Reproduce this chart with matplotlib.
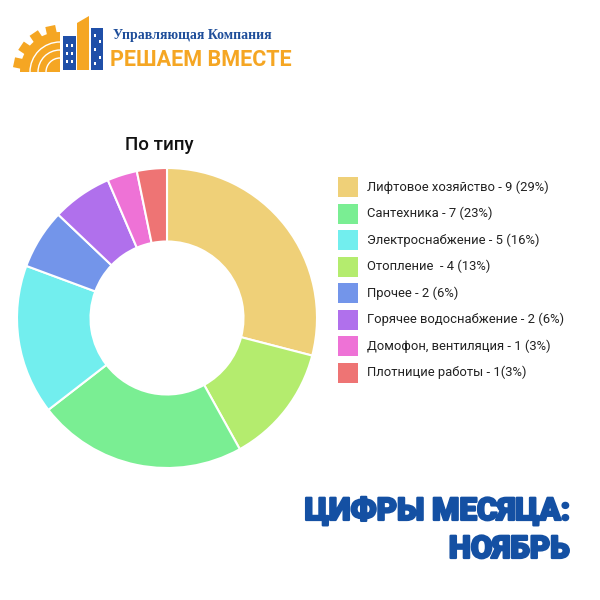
import numpy as np
import matplotlib
matplotlib.use('Agg')
import matplotlib.pyplot as plt
import matplotlib.patheffects as pe
from matplotlib.patches import Rectangle, Wedge, Polygon, Arc

# данные
categories = ['Лифтовое хозяйство', 'Сантехника', 'Электроснабжение', 'Отопление ',
              'Прочее', 'Горячее водоснабжение', 'Домофон, вентиляция', 'Плотницие работы']
counts = [9, 7, 5, 4, 2, 2, 1, 1]
percents = [29, 23, 16, 13, 6, 6, 3, 3]
colors = ['#EFD078', '#7AEE93', '#72EEEE', '#B4EC6E', '#7395EA', '#B070EC', '#EE72D6', '#EE7474']
# порядок секторов по часовой стрелке от 12 часов
pie_order = [0, 3, 1, 2, 4, 5, 6, 7]

legend_labels = [f'{c} - {n} ({p}%)' for c, n, p in zip(categories, counts, percents)]
legend_labels[-1] = f'{categories[-1]} - {counts[-1]}({percents[-1]}%)'

ORANGE = '#F5A623'
BLUE = '#1450A3'

fig = plt.figure(figsize=(6, 6), dpi=100)

# бублик
ax = fig.add_axes([17 / 600, 1 - 468 / 600, 0.5, 0.5])
ax.pie([counts[i] for i in pie_order], colors=[colors[i] for i in pie_order],
       startangle=90, counterclock=False, radius=1.0,
       wedgeprops=dict(width=0.49, edgecolor='white', linewidth=1.5))
ax.set_xlim(-1.0, 1.0)
ax.set_ylim(-1.0, 1.0)
ax.set_aspect('equal')

fig.text(159 / 600, 1 - 145 / 600, 'По типу', ha='center', va='center',
         fontsize=13.5, family='Roboto', fontweight='medium', color='#111111')

# легенда
for k, (lab, col) in enumerate(zip(legend_labels, colors)):
    yc = 187 + k * 26.5
    fig.patches.append(Rectangle((338 / 600, 1 - (yc + 10) / 600), 20 / 600, 20 / 600,
                                 transform=fig.transFigure, facecolor=col, edgecolor='none'))
    fig.text(367 / 600, 1 - yc / 600, lab, ha='left', va='center', fontsize=9.4,
             family='Roboto', color='#222222')

# логотип (координаты в пикселях)
lx = fig.add_axes([0, 0, 1, 1], zorder=-1)
lx.set_xlim(0, 600)
lx.set_ylim(600, 0)
lx.axis('off')

lx.add_patch(Wedge((60, 72), 40, 180, 270, facecolor=ORANGE, edgecolor='none'))
for a in np.linspace(192, 258, 4):
    t = np.radians(a)
    c, s = np.cos(t), np.sin(t)
    px, py = -s, c
    r0, r1, w = 36, 47, 5
    pts = [(60 + r0 * c + w * px, 72 + r0 * s + w * py),
           (60 + r1 * c + w * px, 72 + r1 * s + w * py),
           (60 + r1 * c - w * px, 72 + r1 * s - w * py),
           (60 + r0 * c - w * px, 72 + r0 * s - w * py)]
    lx.add_patch(Polygon(pts, facecolor=ORANGE, edgecolor='none'))
for r in (14, 22, 30):
    lx.add_patch(Arc((60, 72), 2 * r, 2 * r, theta1=180, theta2=270, color='white', lw=1))
lx.add_patch(Rectangle((63, 36), 13, 34, facecolor='#1F4FA8'))
lx.add_patch(Polygon([(77, 70), (77, 23), (89, 16), (89, 70)], facecolor=ORANGE))
lx.add_patch(Rectangle((91, 28), 12, 42, facecolor='#1F4FA8'))
for wx, wy in [(66, 44), (71, 44), (66, 52), (71, 52), (66, 60), (71, 60),
               (94, 34), (99, 40), (94, 48), (99, 56), (94, 62)]:
    lx.add_patch(Rectangle((wx, wy), 2, 3, facecolor='white'))

lx.text(113, 35, 'Управляющая Компания', ha='left', va='center', fontsize=10,
        family='Liberation Serif', fontweight='bold', color='#1F4E9A')
lx.text(110, 60, 'РЕШАЕМ ВМЕСТЕ', ha='left', va='center', fontsize=15.5,
        family='Roboto', fontweight='bold', color=ORANGE)

# подпись
stroke = [pe.withStroke(linewidth=1.6, foreground=BLUE)]
lx.text(570, 511, 'ЦИФРЫ МЕСЯЦА:', ha='right', va='center', fontsize=22.5,
        family='Roboto', fontweight='heavy', color=BLUE, path_effects=stroke)
lx.text(570, 549, 'НОЯБРЬ', ha='right', va='center', fontsize=22.5,
        family='Roboto', fontweight='heavy', color=BLUE, path_effects=stroke)

fig.savefig('out.png', dpi=100, facecolor='white')
